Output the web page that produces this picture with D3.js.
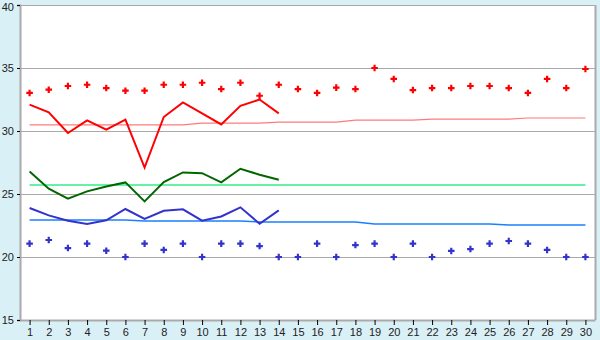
<!DOCTYPE html>
<html>
<head>
<meta charset="utf-8">
<script src="https://cdn.jsdelivr.net/npm/d3@7"></script>
<style>
  body { margin: 0; background: #daf0f7; }
  svg { display: block; font-family: "DejaVu Sans", Verdana, sans-serif; }
</style>
</head>
<body>
<div id="chart"></div>
<script>
// Data
const days = d3.range(1, 31);

const maxDots = [33.02, 33.28, 33.57, 33.67, 33.41, 33.2, 33.2, 33.67, 33.67, 33.83,
                 33.33, 33.83, 32.8, 33.67, 33.33, 33.02, 33.44, 33.33, 35.0, 34.13,
                 33.25, 33.41, 33.41, 33.57, 33.57, 33.41, 33.02, 34.13, 33.41, 34.92];
const minDots = [21.06, 21.35, 20.71, 21.06, 20.5, 20.0, 21.06, 20.56, 21.06, 20.0,
                 21.06, 21.06, 20.87, 20.0, 20.0, 21.06, 20.0, 20.95, 21.06, 20.0,
                 21.06, 20.0, 20.48, 20.63, 21.06, 21.27, 21.06, 20.56, 20.0, 20.0];

const maxLine = [32.09, 31.48, 29.84, 30.84, 30.1, 30.9, 27.1, 31.11, 32.27, 31.4,
                 30.52, 32.0, 32.5, 31.4];
const midLine = [26.79, 25.42, 24.63, 25.21, 25.6, 25.92, 24.41, 25.95, 26.71, 26.65,
                 25.92, 27.0, 26.53, 26.13];
const minLine = [23.89, 23.3, 22.88, 22.62, 22.91, 23.81, 23.03, 23.67, 23.78, 22.88,
                 23.22, 23.94, 22.64, 23.7];

const maxNormal = [30.48, 30.48, 30.48, 30.48, 30.48, 30.48, 30.48, 30.48, 30.48, 30.63,
                   30.63, 30.63, 30.63, 30.71, 30.71, 30.71, 30.71, 30.87, 30.87, 30.87,
                   30.87, 30.95, 30.95, 30.95, 30.95, 30.95, 31.03, 31.03, 31.03, 31.03];
const midNormal = days.map(() => 25.71);
const minNormal = [22.94, 22.94, 22.94, 22.94, 22.94, 22.94, 22.86, 22.86, 22.86, 22.86,
                   22.86, 22.86, 22.78, 22.78, 22.78, 22.78, 22.78, 22.78, 22.62, 22.62,
                   22.62, 22.62, 22.62, 22.62, 22.62, 22.54, 22.54, 22.54, 22.54, 22.54];

const yTicks = [15, 20, 25, 30, 35, 40];

// Layout
const width = 600, height = 340;
const margin = {top: 5, right: 5, bottom: 20, left: 20};

const svg = d3.select("#chart").append("svg")
    .attr("width", width)
    .attr("height", height);

const x = d3.scalePoint()
    .domain(days)
    .range([margin.left, width - margin.right])
    .padding(0.5);

const y = d3.scaleLinear()
    .domain([15, 40])
    .range([height - margin.bottom, margin.top]);

// Plot background
svg.append("rect")
    .attr("x", margin.left)
    .attr("y", margin.top)
    .attr("width", width - margin.left - margin.right)
    .attr("height", height - margin.top - margin.bottom)
    .attr("fill", "#fff");

// Grid lines
svg.append("g")
    .selectAll("line")
    .data(yTicks)
    .enter().append("line")
    .attr("x1", margin.left)
    .attr("x2", width - margin.right)
    .attr("y1", d => Math.round(y(d)) + 0.5)
    .attr("y2", d => Math.round(y(d)) + 0.5)
    .attr("stroke", "#aaa");

// Right border
svg.append("line")
    .attr("x1", width - margin.right + 0.5)
    .attr("x2", width - margin.right + 0.5)
    .attr("y1", margin.top)
    .attr("y2", height - margin.bottom)
    .attr("stroke", "#aaa")
    .attr("stroke-width", 2);

// Axes
const yAxis = svg.append("g")
    .attr("transform", `translate(${margin.left},0)`)
    .call(d3.axisLeft(y).tickValues(yTicks).tickSize(3).tickPadding(3));
yAxis.select(".domain").attr("stroke", "#aaa").attr("stroke-width", 2);
yAxis.selectAll(".tick line").attr("stroke", "#000");
yAxis.selectAll("text").attr("font-size", 11).attr("fill", "#222");
// keep the top label inside the window
yAxis.selectAll(".tick").filter(d => d === 40).select("text").attr("dy", "0.5em");

const xAxis = svg.append("g")
    .attr("transform", `translate(0,${height - margin.bottom})`)
    .call(d3.axisBottom(x).tickSize(5).tickPadding(3).tickSizeOuter(0));
xAxis.select(".domain").attr("stroke", "#aaa").attr("stroke-width", 2);
xAxis.selectAll(".tick line").attr("stroke", "#000");
xAxis.selectAll("text").attr("font-size", 11).attr("fill", "#222");

// Lines
const line = d3.line()
    .x((d, i) => x(days[i]))
    .y(d => y(d));

const lines = [
    {values: maxNormal, color: "#ff7b7b", w: 1.2},
    {values: midNormal, color: "#33ee88", w: 1.5},
    {values: minNormal, color: "#1a80ff", w: 1.5},
    {values: maxLine, color: "#ff0000", w: 2},
    {values: midLine, color: "#006600", w: 2},
    {values: minLine, color: "#3333cc", w: 2}
];

svg.append("g")
    .selectAll("path")
    .data(lines)
    .enter().append("path")
    .attr("d", d => line(d.values))
    .attr("fill", "none")
    .attr("stroke", d => d.color)
    .attr("stroke-width", d => d.w);

// Markers
const cross = d3.symbol().type(d3.symbolCross).size(24);

const dots = [
    {values: maxDots, color: "#ff0000"},
    {values: minDots, color: "#3333cc"}
];

dots.forEach(s => {
    svg.append("g")
        .selectAll("path")
        .data(s.values)
        .enter().append("path")
        .attr("d", cross)
        .attr("transform", (d, i) => `translate(${x(days[i])},${y(d)})`)
        .attr("fill", s.color);
});
</script>
</body>
</html>
